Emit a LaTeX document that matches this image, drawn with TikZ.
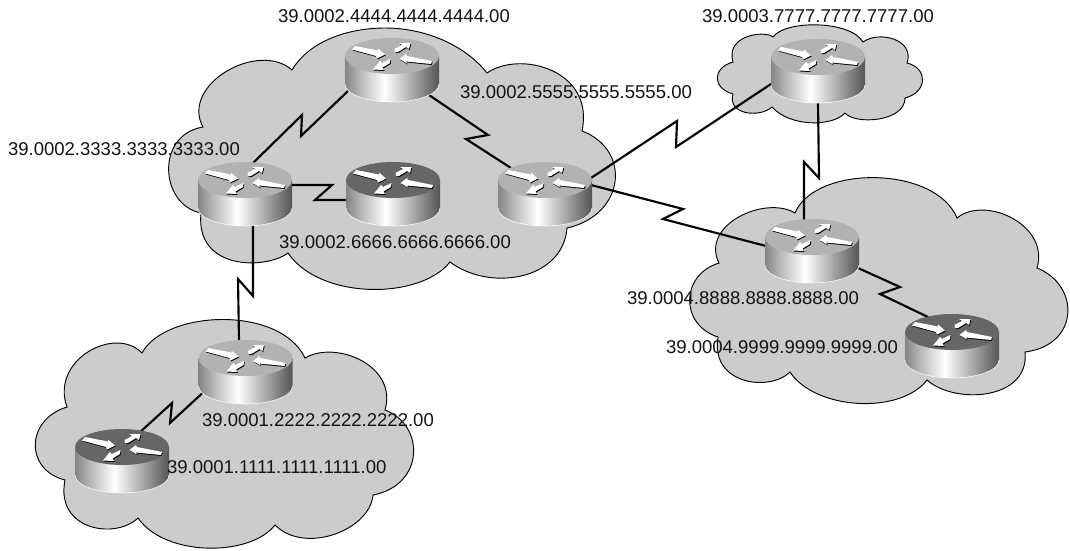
\documentclass[tikz,border=0pt]{standalone}
\usepackage{fontspec}
\setmainfont{Liberation Sans}
\definecolor{cloudgray}{HTML}{CCCCCC}
\definecolor{toplight}{HTML}{B2B2B2}
\definecolor{topdark}{HTML}{666666}
\definecolor{wallA}{gray}{0.52}
\definecolor{wallB}{gray}{0.72}
\definecolor{wallC}{gray}{1}
\definecolor{wallD}{gray}{0.68}
\definecolor{wallE}{gray}{0.33}
\pgfdeclarehorizontalshading{routerwall}{100bp}{color(0bp)=(wallA); color(25bp)=(wallA); color(33bp)=(wallB); color(46bp)=(wallC); color(60bp)=(wallD); color(75bp)=(wallE); color(100bp)=(wallE)}
\tikzset{
  cloudshape/.style={fill=cloudgray,draw=black,line width=0.7pt,line join=miter},
  serial/.style={draw=black,line width=1.6pt,line join=miter},
  routernode/.style={minimum width=70.5pt,minimum height=48pt,inner sep=0pt,outer sep=0pt},
  addr/.style={anchor=west,inner sep=0pt,outer sep=0pt,font=\fontsize{13.9pt}{16pt}\selectfont,text=black!92},
  arrowwhite/.style={fill=white,draw=none},
  arrowblack/.style={fill=black,draw=none,shift={(0.7,1)}}
}
\newcommand{\routerarrows}[1]{%
  \path[#1] (-40,-20.5) -- (-37,-24) -- (-14,-19.5) -- (-14,-21.5) -- (-7,-15.5) -- (-15,-11.5) -- (-16,-14) -- cycle;
  \path[#1] (40,-9) -- (39,-6) -- (14,-8.5) -- (15,-6.5) -- (7.5,-11) -- (14,-16) -- (15,-14) -- cycle;
  \path[#1] (2.5,-21) -- (10,-25) -- (7,-27) -- (18.5,-27) -- (17,-21) -- (14,-23) -- (6,-18) -- (3,-18) -- cycle;
  \path[#1] (-1.5,-11) -- (-10,-7) -- (-12,-9) -- (-19,-0.5) -- (-8,0) -- (-9.5,-2.5) -- (-2,-7) -- cycle;
}
\newcommand{\routerbody}[2]{%
  \begin{scope}[shift={(#1.center)}]
    \shade[shading=routerwall] (-47,-14) -- (-47,14) .. controls (-47,24) and (-26,32) .. (0,32) .. controls (26,32) and (47,24) .. (47,14) -- (47,-14) -- cycle;
    \draw[white,line width=0.4pt] (-47,14) .. controls (-47,24) and (-26,32) .. (0,32) .. controls (26,32) and (47,24) .. (47,14);
    \fill[#2] (-47,-14) .. controls (-47,-24) and (-26,-32) .. (0,-32) .. controls (26,-32) and (47,-24) .. (47,-14) .. controls (47,-4) and (26,4) .. (0,4) .. controls (-26,4) and (-47,-4) .. (-47,-14) -- cycle;
    \routerarrows{arrowblack}
    \routerarrows{arrowwhite}
  \end{scope}
}
\begin{document}
\begin{tikzpicture}[x=0.75pt,y=-0.75pt]
\useasboundingbox (0,0) rectangle (1070,550);
\fill[white] (0,0) rectangle (1070,550);
% clouds
\path[cloudshape] (292,70) .. controls (310,40) and (350,28) .. (385,28) .. controls (425,28) and (465,45) .. (487,73)
  .. controls (520,50) and (595,70) .. (582,131)
  .. controls (632,150) and (625,215) .. (567,228)
  .. controls (563,280) and (490,292) .. (450,262)
  .. controls (420,300) and (320,300) .. (288,253)
  .. controls (265,270) and (195,270) .. (201,213)
  .. controls (160,205) and (155,135) .. (203,127)
  .. controls (180,85) and (258,40) .. (292,70) -- cycle;
\path[cloudshape] (142,353) .. controls (165,310) and (280,305) .. (305,358)
  .. controls (335,340) and (398,365) .. (385,410)
  .. controls (425,425) and (425,485) .. (373,495)
  .. controls (370,530) and (305,555) .. (275,525)
  .. controls (250,557) and (165,557) .. (138,518)
  .. controls (115,540) and (55,530) .. (65,480)
  .. controls (25,470) and (25,420) .. (67,407)
  .. controls (50,360) and (115,325) .. (142,353) -- cycle;
\path[cloudshape] (773,37) .. controls (785,20) and (850,20) .. (863,42)
  .. controls (880,30) and (915,40) .. (907,63)
  .. controls (928,68) and (928,92) .. (905,98)
  .. controls (905,122) and (855,125) .. (845,113)
  .. controls (832,127) and (790,127) .. (772,107)
  .. controls (760,118) and (727,115) .. (733,94)
  .. controls (712,88) and (712,68) .. (733,62)
  .. controls (725,35) and (765,30) .. (773,37) -- cycle;
\path[cloudshape] (795,213) .. controls (815,165) and (935,165) .. (957,218)
  .. controls (985,195) and (1050,225) .. (1037,268)
  .. controls (1080,285) and (1080,345) .. (1025,352)
  .. controls (1030,400) and (955,405) .. (927,380)
  .. controls (900,415) and (815,410) .. (790,372)
  .. controls (770,392) and (710,385) .. (718,337)
  .. controls (680,325) and (680,275) .. (719,263)
  .. controls (700,225) and (765,195) .. (795,213) -- cycle;
% router anchors
\node[routernode] (r1) at (122,461) {};
\node[routernode] (r2) at (245.5,372) {};
\node[routernode] (r3) at (245,194) {};
\node[routernode] (r4) at (392,70) {};
\node[routernode] (r5) at (545,194) {};
\node[routernode] (r6) at (393,194) {};
\node[routernode] (r7) at (818,71) {};
\node[routernode] (r8) at (812,251) {};
\node[routernode] (r9) at (952,346) {};
% connectors
\draw[serial] ([shift={(7,-30)}]r3.center) -- (302,115) -- (301,136) -- ([shift={(-44,21)}]r4.center);
\draw[serial] ([shift={(37,25)}]r4.center) -- (488,135) -- (466,139) -- ([shift={(-34,-26)}]r5.center);
\draw[serial] ([shift={(46,-9)}]r3.center) -- (332,185) -- (315,200) -- ([shift={(-46,6)}]r6.center);
\draw[serial] ([shift={(8,31)}]r3.center) -- (253,296) -- (238,279) -- ([shift={(-6.5,-31)}]r2.center);
\draw[serial] ([shift={(-43,21)}]r2.center) -- (170,423) -- (172,403) -- ([shift={(17,-28)}]r1.center);
\draw[serial] ([shift={(46,-16)}]r5.center) -- (677,121) -- (676,147) -- ([shift={(-47,13)}]r7.center);
\draw[serial] ([shift={(46,-9)}]r5.center) -- (683,209) -- (663,219) -- ([shift={(-46,-5)}]r8.center);
\draw[serial] ([shift={(0,32)}]r7.center) -- (819,178) -- (804,162) -- ([shift={(-8,-31)}]r8.center);
\draw[serial] ([shift={(46,17)}]r8.center) -- (900,287) -- (880,294) -- ([shift={(-24,-29)}]r9.center);
% routers
\routerbody{r1}{topdark}
\routerbody{r2}{toplight}
\routerbody{r3}{toplight}
\routerbody{r4}{toplight}
\routerbody{r5}{toplight}
\routerbody{r6}{topdark}
\routerbody{r7}{toplight}
\routerbody{r8}{toplight}
\routerbody{r9}{topdark}
% labels
\node[addr] (l4) at (278,16) {39.0002.4444.4444.4444.00};
\node[addr] (l7) at (702,16) {39.0003.7777.7777.7777.00};
\node[addr] (l5) at (460,92) {39.0002.5555.5555.5555.00};
\node[addr] (l3) at (8,149) {39.0002.3333.3333.3333.00};
\node[addr] (l6) at (279,242) {39.0002.6666.6666.6666.00};
\node[addr] (l8) at (627,298) {39.0004.8888.8888.8888.00};
\node[addr] (l9) at (666,347) {39.0004.9999.9999.9999.00};
\node[addr] (l2) at (202,420) {39.0001.2222.2222.2222.00};
\node[addr] (l1) at (167,467) {39.0001.1111.1111.1111.00};
\end{tikzpicture}
\end{document}
